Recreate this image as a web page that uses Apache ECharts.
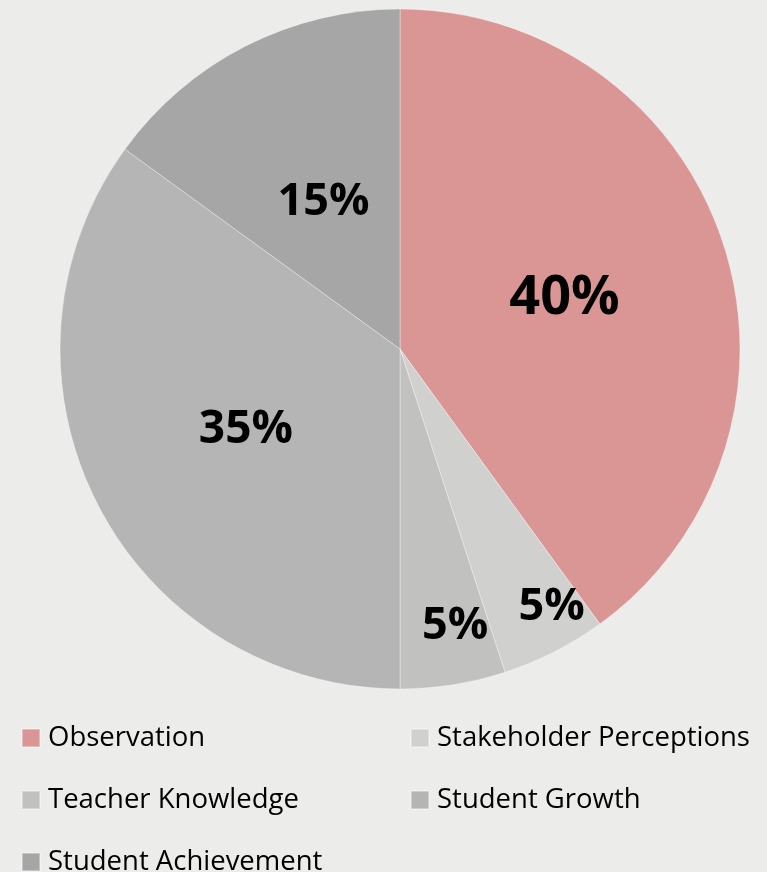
<!DOCTYPE html>
<html>
<head>
<meta charset="utf-8">
<script src="https://cdn.jsdelivr.net/npm/echarts@6/dist/echarts.min.js"></script>
<style>
html,body{margin:0;padding:0;background:#ECECEA;}
#chart{width:767px;height:872px;}
</style>
</head>
<body>
<div id="chart"></div>
<script>
const categories = ['Observation', 'Stakeholder Perceptions', 'Teacher Knowledge', 'Student Growth', 'Student Achievement'];
const values = [40, 5, 5, 35, 15];
const colors = ['#DA9694', '#D0D0CE', '#C1C1C0', '#B5B5B5', '#A6A6A6'];
const labelOffsets = [[0, 3], [73, 104], [28, 106], [0, 2], [2, 7]];
const labelSizes = [54, 45, 45, 46, 45];

const chart = echarts.init(document.getElementById('chart'), null, {renderer: 'canvas'});
const font = '"Open Sans", "DejaVu Sans", sans-serif';

const legendCommon = {
  orient: 'vertical',
  icon: 'rect',
  itemWidth: 18,
  itemHeight: 18,
  itemGap: 32,
  padding: 0,
  height: 200,
  selectedMode: false,
  textStyle: {fontFamily: font, fontSize: 27.5, color: '#000', lineHeight: 30, padding: [0, 0, 0, 3]}
};

chart.setOption({
  backgroundColor: '#ECECEA',
  animation: false,
  legend: [
    Object.assign({}, legendCommon, {left: 21, top: 723, data: [categories[0], categories[2], categories[4]]}),
    Object.assign({}, legendCommon, {left: 410, top: 723, data: [categories[1], categories[3]]})
  ],
  series: [{
    type: 'pie',
    center: [400, 349],
    radius: [0, 340],
    startAngle: 90,
    clockwise: true,
    silent: true,
    itemStyle: {borderColor: 'rgba(255,255,255,0.35)', borderWidth: 1},
    label: {
      show: true,
      position: 'inside',
      formatter: '{c}%',
      fontFamily: font,
      fontWeight: 'bold',
      color: '#000'
    },
    labelLine: {show: false},
    data: categories.map((name, i) => ({
      name: name,
      value: values[i],
      itemStyle: {color: colors[i]},
      label: {offset: labelOffsets[i], fontSize: labelSizes[i]}
    }))
  }]
});
</script>
</body>
</html>
